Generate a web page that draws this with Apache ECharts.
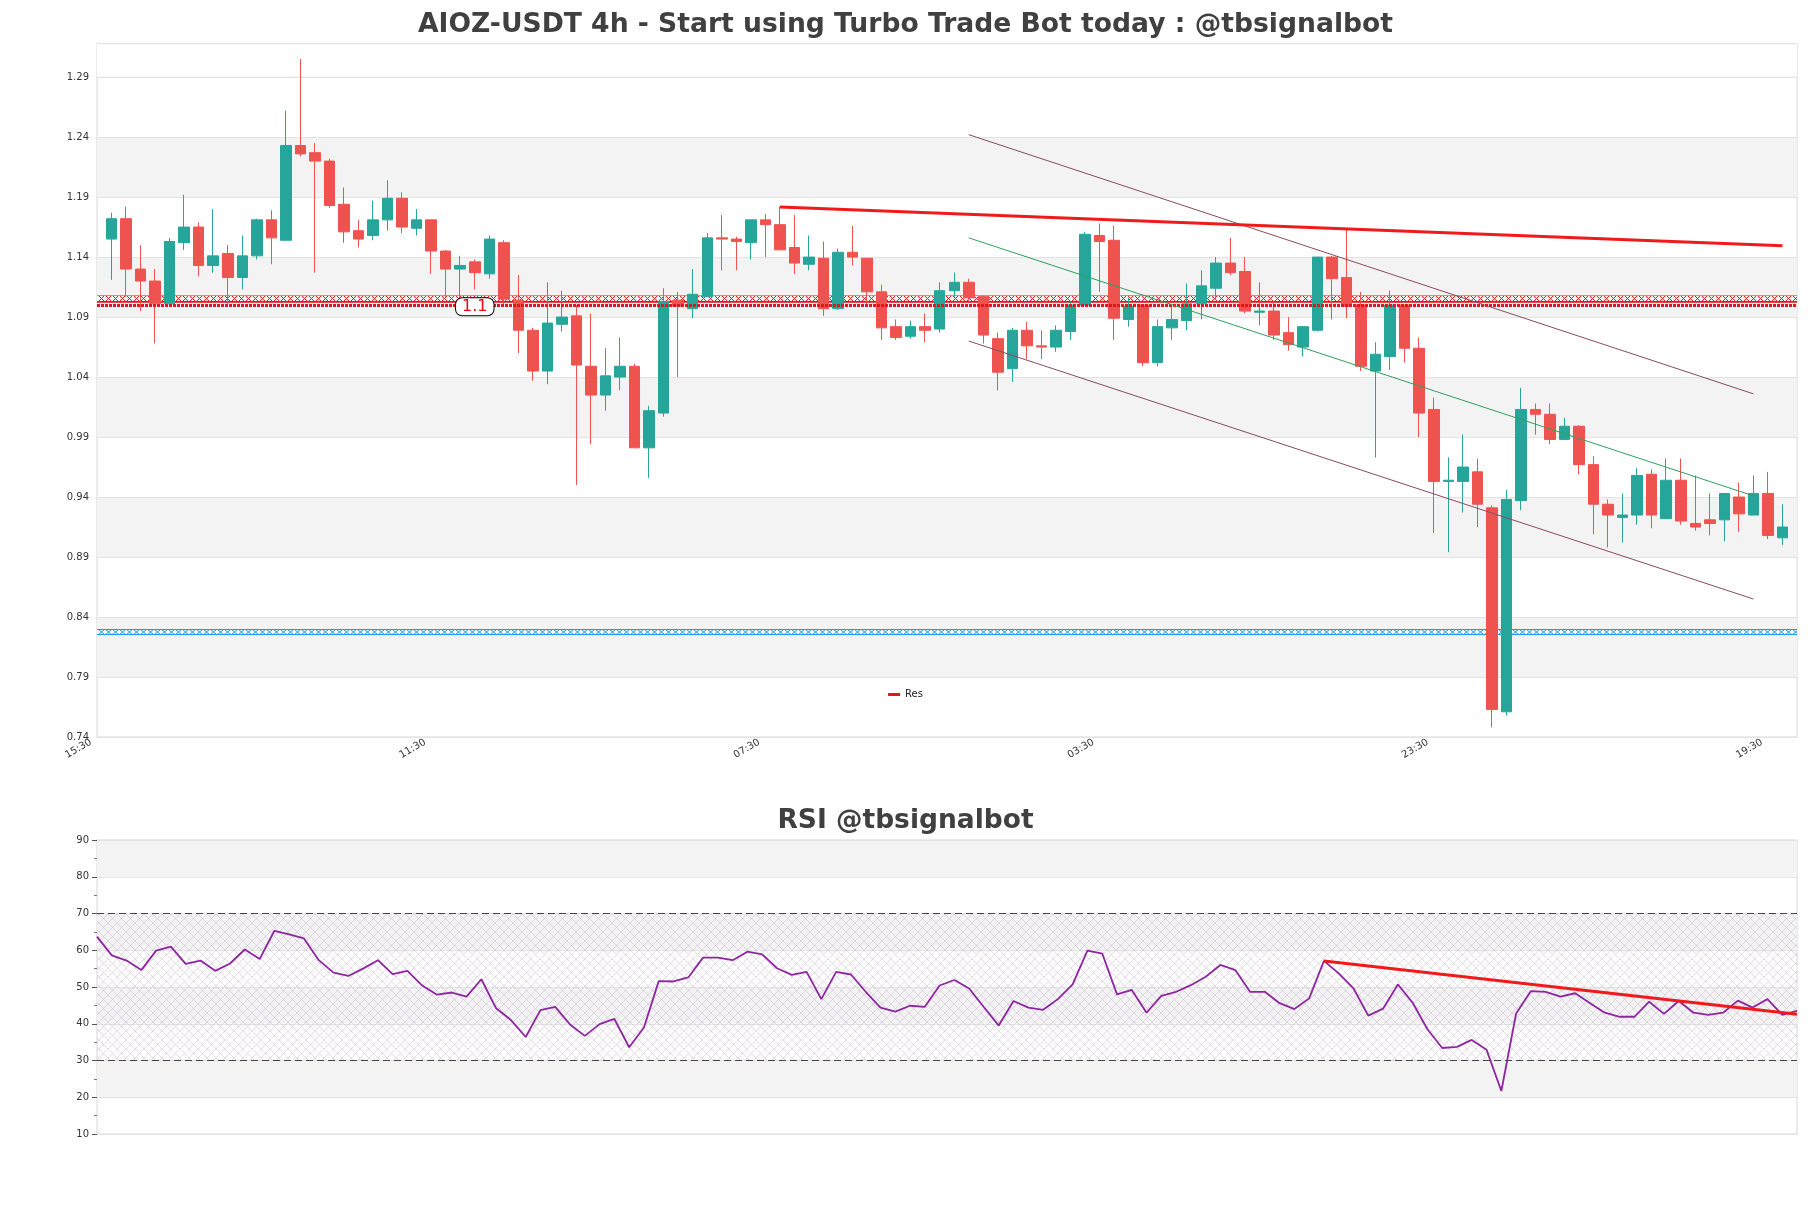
<!DOCTYPE html>
<html><head><meta charset="utf-8">
<script src="https://cdn.jsdelivr.net/npm/echarts@6/dist/echarts.min.js"></script>
<style>html,body{margin:0;padding:0;background:#fff}#c{width:1811px;height:1208px}</style>
</head><body><div id="c"></div>
<script>
// ---- data ----
const timeCycle = ['15:30','19:30','23:30','03:30','07:30','11:30'];
const opens  = [1.155,1.172,1.130,1.120,1.101,1.152,1.165,1.133,1.143,1.123,1.141,1.171,1.154,1.233,1.227,1.220,1.184,1.162,1.158,1.171,
                1.189,1.164,1.171,1.145,1.130,1.136,1.126,1.152,1.104,1.079,1.045,1.084,1.091,1.049,1.025,1.040,1.049,0.981,1.010,1.104,
                1.097,1.107,1.156,1.155,1.152,1.171,1.167,1.148,1.134,1.139,1.097,1.144,1.139,1.111,1.082,1.074,1.082,1.080,1.112,1.119,
                1.107,1.072,1.047,1.079,1.066,1.065,1.078,1.100,1.158,1.154,1.088,1.100,1.052,1.081,1.087,1.101,1.114,1.135,1.128,1.094,
                1.095,1.077,1.065,1.079,1.140,1.123,1.100,1.045,1.057,1.100,1.064,1.013,0.953,0.953,0.961,0.931,0.761,0.937,1.013,1.009,
                0.988,0.999,0.967,0.934,0.923,0.925,0.959,0.922,0.954,0.918,0.921,0.921,0.940,0.925,0.943,0.906];
const closes = [1.172,1.130,1.120,1.101,1.153,1.165,1.133,1.141,1.123,1.141,1.171,1.156,1.233,1.226,1.220,1.183,1.161,1.155,1.171,1.189,
                1.165,1.171,1.145,1.130,1.133,1.127,1.155,1.105,1.079,1.045,1.085,1.090,1.050,1.025,1.041,1.049,0.981,1.012,1.103,1.099,
                1.109,1.156,1.155,1.153,1.171,1.167,1.146,1.135,1.140,1.097,1.144,1.140,1.111,1.081,1.073,1.082,1.079,1.112,1.119,1.106,
                1.075,1.044,1.079,1.066,1.065,1.079,1.100,1.159,1.153,1.089,1.099,1.052,1.082,1.088,1.101,1.116,1.135,1.127,1.095,1.095,
                1.075,1.067,1.082,1.140,1.122,1.099,1.049,1.059,1.100,1.064,1.010,0.953,0.954,0.965,0.934,0.763,0.938,1.013,1.009,0.988,
                0.999,0.967,0.934,0.925,0.925,0.958,0.925,0.954,0.920,0.915,0.918,0.943,0.926,0.943,0.908,0.915];
const lows   = [1.121,1.107,1.095,1.068,1.100,1.146,1.124,1.127,1.099,1.113,1.138,1.134,1.154,1.224,1.127,1.181,1.152,1.148,1.154,1.162,
                1.160,1.158,1.126,1.107,1.107,1.113,1.122,1.099,1.060,1.037,1.034,1.078,0.950,0.984,1.012,1.029,0.981,0.956,1.007,1.040,
                1.089,1.107,1.129,1.129,1.138,1.140,1.146,1.126,1.129,1.091,1.096,1.133,1.099,1.071,1.071,1.072,1.069,1.077,1.107,1.103,
                1.068,1.029,1.036,1.055,1.055,1.061,1.071,1.100,1.111,1.071,1.082,1.049,1.049,1.071,1.079,1.088,1.104,1.125,1.093,1.083,
                1.071,1.062,1.057,1.078,1.088,1.089,1.045,0.973,1.046,1.052,0.990,0.910,0.894,0.927,0.915,0.748,0.758,0.929,0.992,0.984,
                0.988,0.959,0.909,0.898,0.902,0.917,0.914,0.922,0.917,0.912,0.908,0.903,0.911,0.925,0.905,0.900];
const highs  = [1.177,1.182,1.150,1.130,1.156,1.192,1.169,1.180,1.150,1.158,1.172,1.179,1.262,1.305,1.235,1.222,1.198,1.171,1.187,1.204,
                1.194,1.180,1.171,1.146,1.141,1.138,1.158,1.154,1.125,1.081,1.119,1.112,1.100,1.093,1.064,1.073,1.051,1.016,1.114,1.111,
                1.130,1.160,1.175,1.157,1.171,1.176,1.182,1.175,1.158,1.153,1.147,1.166,1.139,1.117,1.088,1.087,1.093,1.119,1.127,1.122,
                1.108,1.077,1.081,1.086,1.079,1.083,1.103,1.161,1.168,1.166,1.106,1.100,1.088,1.099,1.118,1.129,1.140,1.156,1.140,1.119,
                1.103,1.090,1.082,1.140,1.141,1.163,1.111,1.069,1.112,1.100,1.073,1.023,0.973,0.992,0.972,0.933,0.946,1.031,1.018,1.018,
                1.006,1.000,0.974,0.938,0.943,0.964,0.963,0.972,0.972,0.958,0.943,0.943,0.952,0.958,0.961,0.934];
const rsi = [63.7,58.6,57.2,54.6,59.9,61.0,56.3,57.2,54.4,56.4,60.2,57.6,65.3,64.3,63.2,57.3,53.9,53.0,55.0,57.3,
             53.5,54.4,50.4,47.9,48.5,47.4,52.1,44.2,41.0,36.4,43.7,44.6,39.8,36.7,39.9,41.3,33.6,39.0,51.6,51.5,
             52.6,58.0,58.0,57.3,59.6,58.9,55.1,53.3,54.1,46.7,54.1,53.4,48.7,44.4,43.3,44.9,44.6,50.4,51.9,49.6,
             44.5,39.5,46.2,44.4,43.8,46.7,50.7,59.9,59.1,48.0,49.2,43.0,47.6,48.7,50.5,52.8,56.0,54.6,48.7,48.7,
             45.6,44.0,46.9,57.1,53.7,49.6,42.2,44.1,50.7,45.7,38.5,33.4,33.7,35.6,32.9,21.7,42.8,48.9,48.7,47.4,
             48.3,45.6,43.0,41.9,41.9,46.0,42.7,46.2,43.0,42.4,43.0,46.3,44.4,46.7,42.4,43.5];
// annotation lines: [catIndex, value]
const resTrend   = [[47, 1.1817], [116, 1.1494]];
const chanUpper  = [[60, 1.242], [114, 1.026]];
const chanMid    = [[60, 1.156], [114, 0.941]];
const chanLower  = [[60, 1.070], [114, 0.855]];
const resZone    = [1.102, 1.108];
const resLevel   = 1.0975;
const resLabel   = {at: 26, value: 1.0985, text: '1.1'};
const supZone    = [0.825, 0.830];
const rsiTrend   = [[83, 57.1], [115, 42.6]];
const rsiLevels  = [70, 30];
const rsiZone    = [30, 70];
const yMin = 0.74, yMax = 1.318, yStep = 0.05;
const plainTopBand = [1.2907, 1.3172];   // unshaded strip above the last tick

// ---- build ----
const nCat = opens.length + 2;
const categories = Array.from({length: nCat}, (_, i) => timeCycle[i % timeCycle.length]);
const candleData = [['-','-','-','-']];
for (let i = 0; i < opens.length; i++) candleData.push([opens[i], closes[i], lows[i], highs[i]]);
candleData.push(['-','-','-','-']);
const resData = categories.map(() => null);
resData[resTrend[0][0]] = resTrend[0][1];
resData[resTrend[1][0]] = resTrend[1][1];
const rsiCats = rsi.map((_, i) => String(i));

function hatch(color, w, h, withBars) {
  const c = document.createElement('canvas'); c.width = w; c.height = h;
  const g = c.getContext('2d'); g.strokeStyle = color; g.lineWidth = 1;
  g.beginPath();
  if (withBars) { g.moveTo(0, 0.5); g.lineTo(w, 0.5); g.moveTo(0, h - 0.5); g.lineTo(w, h - 0.5); }
  g.moveTo(0, 0); g.lineTo(w, h); g.moveTo(w, 0); g.lineTo(0, h);
  g.stroke();
  return c;
}

const FONT = 'DejaVu Sans';
const G = {left: 97, right: 14, top: 43.5, height: 693.5};
const G2 = {left: 97, right: 14, top: 840, height: 294};
const pix = v => G.top + (yMax - v) / (yMax - yMin) * G.height;
const rsiPix = v => G2.top + (90 - v) / 80 * G2.height;

const chart = echarts.init(document.getElementById('c'), null, {renderer: 'canvas'});
const redPat = {image: hatch('#e8141b', 7, 7, true), repeat: 'repeat', y: Math.round(pix(resZone[1]))};
const bluePat = {image: hatch('#1d9be6', 7, 6, true), repeat: 'repeat', y: Math.round(pix(supZone[1]))};
const rsiPat = {image: hatch('rgba(190,165,200,0.38)', 9, 9, false), repeat: 'repeat', y: Math.round(rsiPix(rsiZone[1]))};

chart.setOption({
  animation: false,
  backgroundColor: '#fff',
  textStyle: {fontFamily: FONT},
  title: [
    {text: 'AIOZ-USDT 4h - Start using Turbo Trade Bot today : @tbsignalbot', left: 'center', top: 7,
     textStyle: {fontFamily: FONT, fontSize: 26.6, fontWeight: 'bold', color: '#404040'}},
    {text: 'RSI @tbsignalbot', left: 'center', top: 803,
     textStyle: {fontFamily: FONT, fontSize: 26.5, fontWeight: 'bold', color: '#404040'}}
  ],
  legend: {data: ['Res'], left: 'center', top: 684.5, icon: 'rect', itemWidth: 12, itemHeight: 3, itemGap: 8,
           textStyle: {fontFamily: FONT, fontSize: 10, color: '#222'}},
  grid: [
    Object.assign({show: true, borderColor: '#d6d6d6', borderWidth: 1, backgroundColor: 'transparent'}, G),
    Object.assign({show: true, borderColor: '#d6d6d6', borderWidth: 1, backgroundColor: 'transparent'}, G2)
  ],
  xAxis: [
    {type: 'category', gridIndex: 0, data: categories, boundaryGap: false,
     axisLine: {show: false}, axisTick: {show: false}, splitLine: {show: false},
     axisLabel: {interval: 22, rotate: 30, fontSize: 10, color: '#333', fontFamily: FONT, margin: 1, padding: [0, 7, 0, 0]}},
    {type: 'category', gridIndex: 1, data: rsiCats, boundaryGap: false,
     axisLine: {show: false}, axisTick: {show: false}, axisLabel: {show: false}, splitLine: {show: false}}
  ],
  yAxis: [
    {type: 'value', gridIndex: 0, min: yMin, max: yMax, interval: yStep,
     axisLine: {show: false}, axisTick: {show: false},
     axisLabel: {fontSize: 10, color: '#333', fontFamily: FONT, showMaxLabel: false, formatter: v => v.toFixed(2)},
     splitLine: {show: true, lineStyle: {color: '#e3e3e3', width: 1}},
     splitArea: {show: true, areaStyle: {color: ['rgba(255,255,255,0)', '#f3f3f3']}}},
    {type: 'value', gridIndex: 1, min: 10, max: 90, interval: 10,
     axisLine: {show: false},
     axisTick: {show: true, length: 5, lineStyle: {color: '#555'}},
     minorTick: {show: true, splitNumber: 2, length: 3, lineStyle: {color: '#777'}},
     axisLabel: {fontSize: 10, color: '#333', fontFamily: FONT},
     splitLine: {show: true, lineStyle: {color: '#e3e3e3', width: 1}},
     splitArea: {show: true, areaStyle: {color: ['rgba(255,255,255,0)', '#f3f3f3']}}}
  ],
  series: [
    {name: 'AIOZ-USDT', type: 'candlestick', xAxisIndex: 0, yAxisIndex: 0, data: candleData, barWidth: 11,
     itemStyle: {color: '#26a69a', color0: '#ef5350', borderColor: '#26a69a', borderColor0: '#ef5350', borderWidth: 1},
     markArea: {silent: true, label: {show: false},
       data: [
         [{yAxis: plainTopBand[0], itemStyle: {color: '#ffffff'}}, {yAxis: plainTopBand[1]}],
         [{yAxis: resZone[0], itemStyle: {color: redPat}}, {yAxis: resZone[1]}],
         [{yAxis: supZone[0], itemStyle: {color: bluePat}}, {yAxis: supZone[1]}]
       ]},
     markLine: {silent: true, symbol: 'none', label: {show: false},
       data: [
         {yAxis: resLevel, lineStyle: {color: '#e8141b', width: 3, type: [3, 1]}},
         [{coord: chanUpper[0], lineStyle: {color: '#8a4a60', width: 1, type: 'solid'}}, {coord: chanUpper[1]}],
         [{coord: chanLower[0], lineStyle: {color: '#8a4a60', width: 1, type: 'solid'}}, {coord: chanLower[1]}],
         [{coord: chanMid[0], lineStyle: {color: '#2fa060', width: 1, type: 'solid'}}, {coord: chanMid[1]}]
       ]},
     markPoint: {silent: true, symbol: 'rect', symbolSize: 1, itemStyle: {color: 'rgba(0,0,0,0)'},
       data: [{coord: [resLabel.at, resLabel.value],
         label: {show: true, position: 'inside', formatter: resLabel.text, color: '#ff0000', fontSize: 16, fontFamily: FONT,
                 backgroundColor: '#fff', borderColor: '#000', borderWidth: 1, borderRadius: 6, padding: [0, 6, 0, 6], lineHeight: 17}}]}
    },
    {name: 'Res', type: 'line', xAxisIndex: 0, yAxisIndex: 0, data: resData, connectNulls: true, symbol: 'none',
     lineStyle: {color: '#f01a1a', width: 3}, itemStyle: {color: '#e8141b'}, z: 5},
    {name: 'RSI', type: 'line', xAxisIndex: 1, yAxisIndex: 1, data: rsi, symbol: 'none',
     lineStyle: {color: '#8e26a0', width: 1.8}, itemStyle: {color: '#8e26a0'},
     markArea: {silent: true, label: {show: false},
       data: [[{yAxis: rsiZone[0], itemStyle: {color: rsiPat}}, {yAxis: rsiZone[1]}]]},
     markLine: {silent: true, symbol: 'none', label: {show: false},
       data: [
         {yAxis: rsiLevels[0], lineStyle: {color: '#444', width: 1, type: [7, 4]}},
         {yAxis: rsiLevels[1], lineStyle: {color: '#444', width: 1, type: [7, 4]}},
         [{coord: rsiTrend[0], lineStyle: {color: '#f01a1a', width: 3, type: 'solid'}}, {coord: rsiTrend[1]}]
       ]}
    }
  ]
});
</script></body></html>
